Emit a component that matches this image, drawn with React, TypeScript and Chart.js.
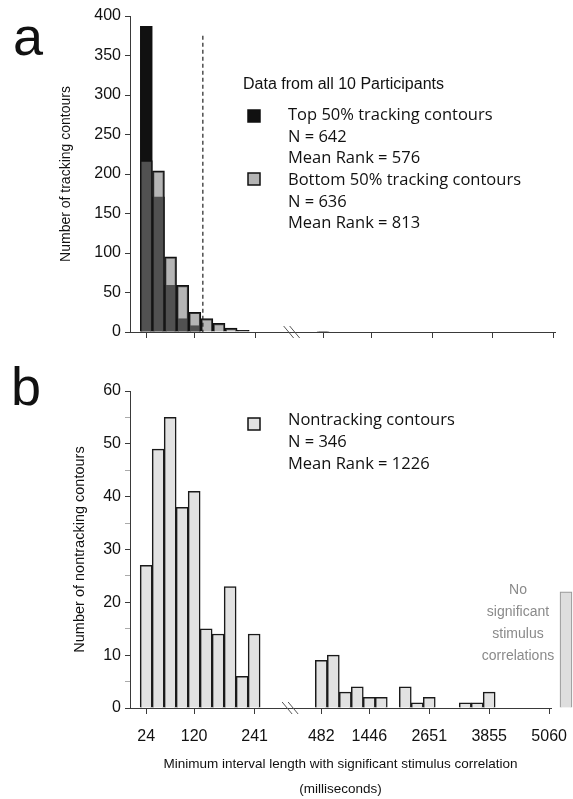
import React, { useEffect, useRef } from 'react';
import { Chart, registerables } from 'chart.js';

Chart.register(...registerables);

// ---- data ----
const shortBinsMs = [24, 48, 72, 96, 120, 144, 168, 192, 216, 240];
const longBinsMs = [482, 723, 964, 1205, 1446, 1687, 1928, 2169, 2410, 2651, 2892, 3133, 3374, 3615, 3855, 4096, 4337, 4578, 4819, 5060];

const top50Short = [387, 171, 59, 17, 8, 0, 0, 0, 0, 0];
const bottom50Short = [217, 204, 95, 59, 25, 17, 11, 5, 2, 0];
const bottom50Long = [1, 0, 0, 0, 0, 0, 0, 0, 0, 0, 0, 0, 0, 0, 0, 0, 0, 0, 0, 0];

const nontrackingShort = [27, 49, 55, 38, 41, 15, 14, 23, 6, 14];
const nontrackingLong = [9, 10, 3, 4, 2, 2, 0, 4, 1, 2, 0, 0, 1, 1, 3, 0, 0, 0, 0, 0];
const noSignificantCount = 22;

const xTickMs = [24, 120, 241, 482, 1446, 2651, 3855, 5060];
const xTickLabels = ['24', '120', '241', '482', '1446', '2651', '3855', '5060'];

const cutoffMs = 136;
const cutoffTopCount = 375;

// ---- axis position mapping (broken axis) ----
const SHORT_STEP = 24;
const LONG_START = 482;
const LONG_STEP = 241;
const LONG_OFFSET = 14.6;
const BREAK_POS = 12;
const NO_SIG_POS = 35;
const X_MIN = -1.35;
const X_MAX = 33.75;

function pos(ms: number): number {
  if (ms < 300) return ms / SHORT_STEP - 1;
  return LONG_OFFSET + (ms - LONG_START) / LONG_STEP;
}

function pts(bins: number[], vals: number[]) {
  return bins.map((b, i) => ({ x: pos(b), y: vals[i] })).filter((p) => p.y > 0);
}

const NARROW = "'Liberation Sans Narrow', 'Liberation Sans', Arial, sans-serif";
const HUMAN = "'Open Sans', 'Noto Sans', sans-serif";
const AXIS = '#3a3a3a';

const breakPlugin = {
  id: 'breakMark',
  afterDraw(chart: any) {
    const { ctx, scales, chartArea } = chart;
    const x = scales.x.getPixelForValue(BREAK_POS);
    const y = chartArea.bottom;
    ctx.save();
    ctx.strokeStyle = '#555';
    ctx.lineWidth = 1;
    [-3, 3].forEach((dx) => {
      ctx.beginPath();
      ctx.moveTo(x + dx - 5, y - 6);
      ctx.lineTo(x + dx + 5, y + 6);
      ctx.stroke();
    });
    ctx.restore();
  },
};

function letter(text: string, x: number, y: number) {
  return {
    id: 'letter' + text,
    afterDraw(chart: any) {
      const ctx = chart.ctx;
      ctx.save();
      ctx.fillStyle = '#111';
      ctx.font = "54px 'Liberation Sans', Arial, sans-serif";
      ctx.textBaseline = 'alphabetic';
      ctx.fillText(text, x, y);
      ctx.restore();
    },
  };
}

function square(ctx: any, x: number, y: number, fill: string) {
  ctx.fillStyle = fill;
  ctx.fillRect(x, y - 6, 12, 12);
  ctx.strokeStyle = '#111';
  ctx.lineWidth = 1.5;
  ctx.strokeRect(x, y - 6, 12, 12);
}

const legendA = {
  id: 'legendA',
  afterDraw(chart: any) {
    const ctx = chart.ctx;
    ctx.save();
    ctx.textBaseline = 'middle';
    ctx.fillStyle = '#111';
    ctx.font = `16px ${NARROW}`;
    ctx.fillText('Data from all 10 Participants', 243, 85);
    ctx.font = `16.5px ${HUMAN}`;
    square(ctx, 248, 116, '#111');
    ctx.fillStyle = '#111';
    ctx.fillText('Top 50% tracking contours', 288, 115);
    ctx.fillText('N = 642', 288, 137);
    ctx.fillText('Mean Rank = 576', 288, 158);
    square(ctx, 248, 179, '#b4b4b4');
    ctx.fillStyle = '#111';
    ctx.fillText('Bottom 50% tracking contours', 288, 180);
    ctx.fillText('N = 636', 288, 202);
    ctx.fillText('Mean Rank = 813', 288, 223);
    ctx.restore();
  },
};

const cutoffPlugin = {
  id: 'cutoff',
  afterDatasetsDraw(chart: any) {
    const { ctx, scales } = chart;
    const x = scales.x.getPixelForValue(pos(cutoffMs));
    ctx.save();
    ctx.strokeStyle = '#222';
    ctx.lineWidth = 1.2;
    ctx.setLineDash([4, 3]);
    ctx.beginPath();
    ctx.moveTo(x, scales.y.getPixelForValue(cutoffTopCount));
    ctx.lineTo(x, scales.y.getPixelForValue(0));
    ctx.stroke();
    ctx.restore();
  },
};

const B_TOP = 355;
const legendB = {
  id: 'legendB',
  afterDraw(chart: any) {
    const ctx = chart.ctx;
    ctx.save();
    ctx.textBaseline = 'middle';
    ctx.font = `16.5px ${HUMAN}`;
    square(ctx, 248, 424 - B_TOP, '#e2e2e2');
    ctx.fillStyle = '#111';
    ctx.fillText('Nontracking contours', 288, 420 - B_TOP);
    ctx.fillText('N = 346', 288, 442 - B_TOP);
    ctx.fillText('Mean Rank = 1226', 288, 464 - B_TOP);
    ctx.fillStyle = '#8a8a8a';
    ctx.textAlign = 'center';
    ctx.font = `14px ${NARROW}`;
    ['No', 'significant', 'stimulus', 'correlations'].forEach((t, i) => {
      ctx.fillText(t, 518, 590 - B_TOP + i * 22);
    });
    ctx.restore();
  },
};

function xScale(showLabels: boolean, height: number, title?: any) {
  return {
    type: 'linear',
    min: X_MIN,
    max: X_MAX,
    offset: false,
    afterBuildTicks(scale: any) {
      scale.ticks = xTickMs.map((ms) => ({ value: pos(ms) }));
    },
    afterFit(scale: any) {
      scale.height = height;
      scale.paddingLeft = 0;
      scale.paddingRight = 0;
    },
    ticks: {
      display: showLabels,
      autoSkip: false,
      maxRotation: 0,
      padding: 13,
      color: '#111',
      font: { family: NARROW, size: 16 },
      callback: (_v: any, i: number) => xTickLabels[i],
    },
    grid: { drawOnChartArea: false, drawTicks: true, tickLength: 6, offset: false, color: AXIS, tickColor: AXIS },
    border: { color: AXIS, width: 1 },
    title: title || { display: false },
  };
}

function yScale(max: number, minor: number, major: number, titleText: string, titleSize: number, titlePad: number) {
  return {
    min: 0,
    max,
    afterFit(scale: any) {
      scale.width = 130;
    },
    ticks: {
      stepSize: minor,
      padding: 4,
      color: '#111',
      font: { family: NARROW, size: 16 },
      callback: (v: any) => (v % major === 0 ? String(v) : ''),
    },
    grid: {
      drawOnChartArea: false,
      drawTicks: true,
      tickLength: 5,
      color: AXIS,
      tickColor: (c: any) => (c.tick && c.tick.value % major === 0 ? AXIS : '#aaa'),
    },
    border: { color: AXIS, width: 1 },
    title: {
      display: true,
      text: titleText,
      color: '#111',
      font: { family: NARROW, size: titleSize },
      padding: { top: titlePad, bottom: 0 },
    },
  };
}

export default function App() {
  const refA = useRef<HTMLCanvasElement>(null);
  const refB = useRef<HTMLCanvasElement>(null);

  useEffect(() => {
    const chartA = new Chart(refA.current as HTMLCanvasElement, {
      type: 'bar',
      data: {
        datasets: [
          {
            label: 'Top 50% tracking contours',
            data: pts(shortBinsMs, top50Short),
            backgroundColor: '#111',
            borderColor: '#111',
            borderWidth: 1.5,
            order: 2,
          },
          {
            label: 'Bottom 50% tracking contours',
            data: [...pts(shortBinsMs, bottom50Short), ...pts(longBinsMs, bottom50Long)],
            backgroundColor: 'rgba(128,128,128,0.58)',
            borderColor: '#111',
            borderWidth: 1.5,
            order: 1,
          },
        ],
      } as any,
      options: {
        responsive: false,
        animation: false,
        events: [],
        layout: { padding: { left: 0, right: 18, top: 16, bottom: 0 } },
        datasets: { bar: { grouped: false, barThickness: 12 } } as any,
        plugins: { legend: { display: false }, tooltip: { enabled: false } },
        scales: {
          x: xScale(false, 18),
          y: yScale(400, 25, 50, 'Number of tracking contours', 14, 58),
        } as any,
      },
      plugins: [cutoffPlugin, breakPlugin, legendA, letter('a', 13, 55)],
    });

    const chartB = new Chart(refB.current as HTMLCanvasElement, {
      type: 'bar',
      data: {
        datasets: [
          {
            label: 'Nontracking contours',
            data: [...pts(shortBinsMs, nontrackingShort), ...pts(longBinsMs, nontrackingLong)],
            backgroundColor: '#e2e2e2',
            borderColor: '#1a1a1a',
            borderWidth: 1.5,
          },
          {
            label: 'No significant stimulus correlations',
            data: [{ x: NO_SIG_POS, y: noSignificantCount }],
            backgroundColor: '#dedede',
            borderColor: '#9a9a9a',
            borderWidth: 1.2,
            clip: false,
          },
        ],
      } as any,
      options: {
        responsive: false,
        animation: false,
        events: [],
        layout: { padding: { left: 0, right: 22, top: 36, bottom: 0 } },
        datasets: { bar: { grouped: false, barThickness: 12 } } as any,
        plugins: { legend: { display: false }, tooltip: { enabled: false } },
        scales: {
          x: xScale(true, 91, {
            display: true,
            text: ['Minimum interval length with significant stimulus correlation', '(milliseconds)'],
            color: '#111',
            font: { family: NARROW, size: 13.5, lineHeight: '25px' },
            padding: { top: 0, bottom: -3 },
          }),
          y: yScale(60, 5, 10, 'Number of nontracking contours', 14.5, 71),
        } as any,
      },
      plugins: [breakPlugin, legendB, letter('b', 11, 405 - B_TOP)],
    });

    return () => {
      chartA.destroy();
      chartB.destroy();
    };
  }, []);

  return (
    <div style={{ position: 'absolute', left: 0, top: 0, width: 573, height: 799, background: '#fff' }}>
      <canvas ref={refA} width={573} height={350} style={{ position: 'absolute', left: 0, top: 0 }} />
      <canvas ref={refB} width={573} height={444} style={{ position: 'absolute', left: 0, top: B_TOP }} />
    </div>
  );
}
